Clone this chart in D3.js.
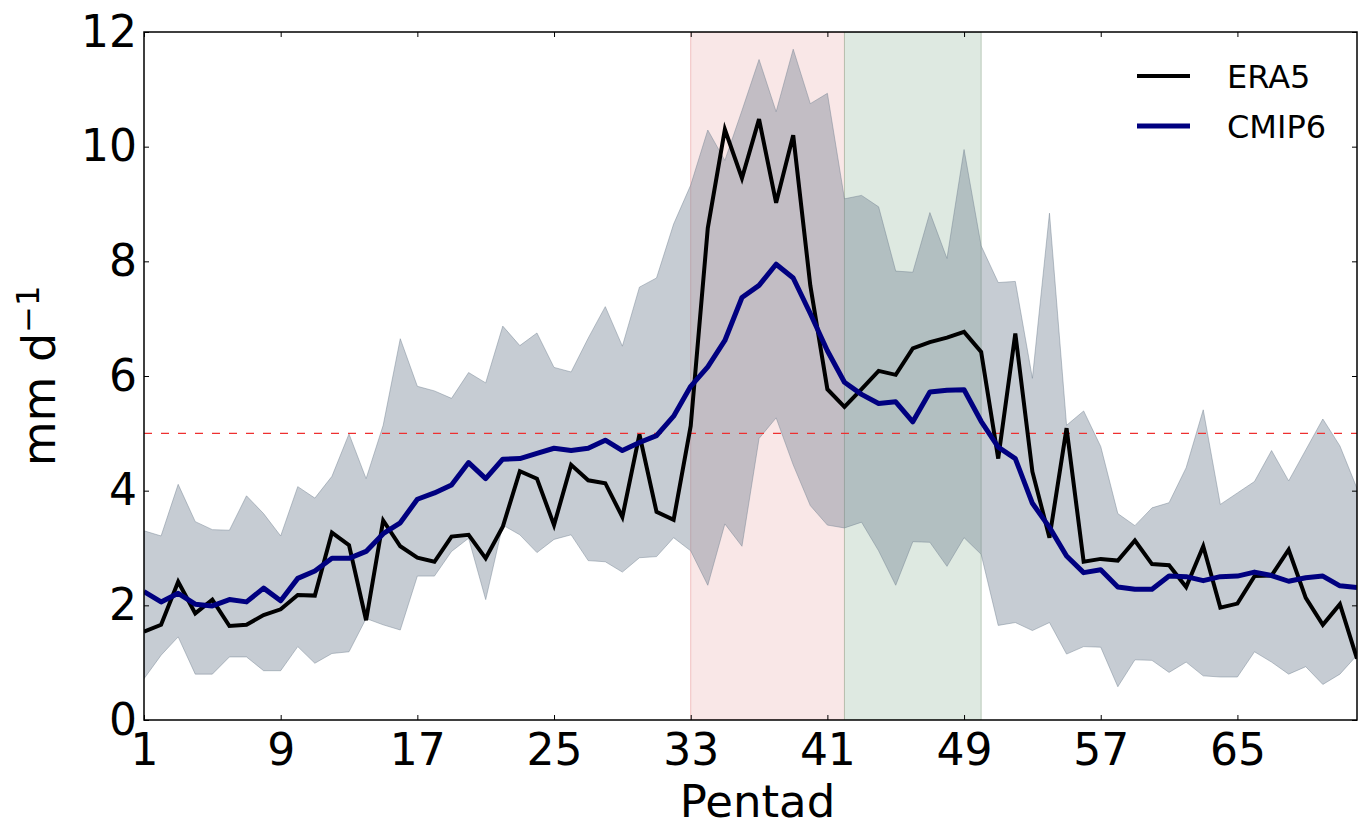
<!DOCTYPE html>
<html>
<head>
<meta charset="utf-8">
<script src="https://cdn.jsdelivr.net/npm/d3@7"></script>
<style>
  html, body { margin: 0; padding: 0; background: #fff; }
  svg { display: block; font-family: "DejaVu Sans", sans-serif; }
</style>
</head>
<body>
<svg id="chart" width="1363" height="828"></svg>
<script>
// Pentad-mean precipitation (mm/day): reanalysis vs. model ensemble
const pentads = d3.range(1, 73);

const era5 = [
  1.54, 1.66, 2.41, 1.86, 2.10, 1.64, 1.66, 1.83, 1.93, 2.18,
  2.17, 3.27, 3.05, 1.74, 3.48, 3.03, 2.83, 2.76, 3.20, 3.23,
  2.82, 3.37, 4.34, 4.21, 3.40, 4.45, 4.18, 4.13, 3.54, 4.98,
  3.63, 3.49, 5.13, 8.58, 10.30, 9.45, 10.48, 9.02, 10.20, 7.58,
  5.77, 5.46, 5.77, 6.09, 6.02, 6.48, 6.59, 6.67, 6.77, 6.42,
  4.56, 6.74, 4.33, 3.18, 5.09, 2.76, 2.81, 2.78, 3.13, 2.72,
  2.70, 2.32, 3.03, 1.96, 2.03, 2.51, 2.52, 2.97, 2.13, 1.66,
  2.02, 1.07
];

const cmip6 = [
  2.24, 2.06, 2.21, 2.02, 1.99, 2.10, 2.06, 2.30, 2.08, 2.47,
  2.60, 2.82, 2.82, 2.94, 3.25, 3.44, 3.85, 3.96, 4.10, 4.49,
  4.21, 4.55, 4.56, 4.65, 4.74, 4.70, 4.74, 4.88, 4.70, 4.84,
  4.96, 5.30, 5.82, 6.16, 6.62, 7.37, 7.58, 7.95, 7.71, 7.09,
  6.44, 5.89, 5.68, 5.52, 5.55, 5.20, 5.72, 5.75, 5.76, 5.21,
  4.76, 4.56, 3.78, 3.36, 2.86, 2.57, 2.62, 2.32, 2.28, 2.28,
  2.51, 2.50, 2.43, 2.50, 2.51, 2.58, 2.52, 2.42, 2.48, 2.51,
  2.34, 2.31
];

// ensemble spread: upper and lower envelope
const cmip6Upper = [
  3.30, 3.21, 4.11, 3.46, 3.32, 3.31, 3.91, 3.60, 3.21, 4.07,
  3.87, 4.25, 4.99, 4.21, 5.14, 6.65, 5.82, 5.74, 5.61, 6.06,
  5.88, 6.87, 6.53, 6.75, 6.15, 6.07, 6.66, 7.21, 6.52, 7.55,
  7.71, 8.65, 9.33, 10.29, 9.76, 10.63, 11.52, 10.61, 11.70, 10.75,
  10.93, 9.09, 9.15, 8.95, 7.83, 7.81, 8.85, 8.05, 9.95, 8.27,
  7.63, 7.65, 5.96, 8.84, 5.14, 5.39, 4.77, 3.60, 3.39, 3.70,
  3.79, 4.40, 5.41, 3.76, 3.96, 4.16, 4.70, 4.17, 4.71, 5.25,
  4.78, 4.04
];

const cmip6Lower = [
  0.72, 1.13, 1.45, 0.80, 0.80, 1.10, 1.10, 0.86, 0.86, 1.28,
  0.99, 1.16, 1.19, 1.77, 1.66, 1.57, 2.51, 2.51, 2.94, 3.17,
  2.10, 3.40, 3.23, 2.92, 3.15, 3.23, 2.78, 2.76, 2.58, 2.83,
  2.85, 3.18, 2.95, 2.35, 3.42, 3.03, 4.91, 5.27, 4.45, 3.74,
  3.40, 3.35, 3.45, 2.95, 2.35, 3.11, 3.10, 2.68, 3.18, 2.89,
  1.65, 1.70, 1.56, 1.70, 1.15, 1.28, 1.27, 0.58, 1.05, 1.04,
  0.83, 1.01, 0.77, 0.75, 0.75, 1.19, 1.01, 0.80, 0.93, 0.62,
  0.80, 1.13
];

// highlighted pentad ranges
const spans = [
  { from: 33, to: 42, fill: "rgb(249,231,231)", edge: "rgba(235,160,160,0.6)" },
  { from: 42, to: 50, fill: "rgb(222,233,225)", edge: "rgba(150,175,150,0.6)" }
];

const threshold = 5;
const xTicks = [1, 9, 17, 25, 33, 41, 49, 57, 65];
const yTicks = [0, 2, 4, 6, 8, 10, 12];
const seriesNames = ["ERA5", "CMIP6"];

const svg = d3.select("#chart");
const plotLeft = 144, plotRight = 1357, plotTop = 32, plotBottom = 720;

const x = d3.scaleLinear().domain([1, 72]).range([plotLeft, plotRight]);
const y = d3.scaleLinear().domain([0, 12]).range([plotBottom, plotTop]);

svg.append("defs").append("clipPath").attr("id", "plot-clip")
  .append("rect")
  .attr("x", plotLeft).attr("y", plotTop)
  .attr("width", plotRight - plotLeft).attr("height", plotBottom - plotTop);

const plot = svg.append("g").attr("clip-path", "url(#plot-clip)");

// shaded pentad windows
plot.selectAll("rect.span")
  .data(spans)
  .join("rect")
  .attr("class", "span")
  .attr("x", d => x(d.from))
  .attr("y", plotTop)
  .attr("width", d => x(d.to) - x(d.from))
  .attr("height", plotBottom - plotTop)
  .attr("fill", d => d.fill)
  .attr("stroke", d => d.edge)
  .attr("stroke-width", 1);

// ensemble envelope
const bandData = pentads.map((p, i) => ({ p, lo: cmip6Lower[i], hi: cmip6Upper[i] }));
plot.append("path")
  .datum(bandData)
  .attr("d", d3.area().x(d => x(d.p)).y0(d => y(d.lo)).y1(d => y(d.hi)))
  .attr("fill", "rgb(112,128,144)")
  .attr("fill-opacity", 0.4)
  .attr("stroke", "rgb(112,128,144)")
  .attr("stroke-opacity", 0.45)
  .attr("stroke-width", 1);

// reference level
plot.append("line")
  .attr("x1", plotLeft).attr("x2", plotRight)
  .attr("y1", y(threshold)).attr("y2", y(threshold))
  .attr("stroke", "#ee3030")
  .attr("stroke-width", 1.2)
  .attr("stroke-dasharray", "8,9");

const line = d3.line().x((d, i) => x(pentads[i])).y(d => y(d));

plot.append("path")
  .datum(era5)
  .attr("d", line)
  .attr("fill", "none")
  .attr("stroke", "#000")
  .attr("stroke-width", 4)
  .attr("stroke-linejoin", "miter");

plot.append("path")
  .datum(cmip6)
  .attr("d", line)
  .attr("fill", "none")
  .attr("stroke", "#000080")
  .attr("stroke-width", 5)
  .attr("stroke-linejoin", "round");

// axes with inward ticks on all four sides
const fontSize = 44;
const gx = svg.append("g").attr("transform", `translate(0,${plotBottom})`)
  .call(d3.axisBottom(x).tickValues(xTicks).tickFormat(d3.format("d"))
    .tickSizeInner(-5).tickSizeOuter(0).tickPadding(14));
const gy = svg.append("g").attr("transform", `translate(${plotLeft},0)`)
  .call(d3.axisLeft(y).tickValues(yTicks).tickFormat(d3.format("d"))
    .tickSizeInner(-5).tickSizeOuter(0).tickPadding(7));
const gt = svg.append("g").attr("transform", `translate(0,${plotTop})`)
  .call(d3.axisTop(x).tickValues(xTicks).tickFormat("")
    .tickSizeInner(-5).tickSizeOuter(0));
const gr = svg.append("g").attr("transform", `translate(${plotRight},0)`)
  .call(d3.axisRight(y).tickValues(yTicks).tickFormat("")
    .tickSizeInner(-5).tickSizeOuter(0));

[gx, gy, gt, gr].forEach(g => {
  g.select(".domain").remove();
  g.selectAll(".tick line").attr("stroke", "#000").attr("stroke-width", 1);
  g.selectAll(".tick text")
    .attr("fill", "#000")
    .attr("font-family", "DejaVu Sans")
    .attr("font-size", fontSize);
});

// frame
svg.append("rect")
  .attr("x", plotLeft).attr("y", plotTop)
  .attr("width", plotRight - plotLeft).attr("height", plotBottom - plotTop)
  .attr("fill", "none")
  .attr("stroke", "#000")
  .attr("stroke-width", 1.5);

// axis titles
svg.append("text")
  .attr("x", (plotLeft + plotRight) / 2 + 7)
  .attr("y", 817)
  .attr("text-anchor", "middle")
  .attr("font-size", 45)
  .attr("fill", "#000")
  .text("Pentad");

const ylab = svg.append("text")
  .attr("transform", `translate(55,${(plotTop + plotBottom) / 2}) rotate(-90)`)
  .attr("text-anchor", "middle")
  .attr("font-size", 46)
  .attr("fill", "#000");
ylab.append("tspan").text("mm d");
ylab.append("tspan").attr("dy", "-0.5em").attr("font-size", 32).text("\u22121");

// legend
const legendColors = ["#000", "#000080"];
const legendWidths = [4, 5];
const legend = svg.append("g");
seriesNames.forEach((name, i) => {
  const ly = 76 + i * 50;
  legend.append("line")
    .attr("x1", 1137).attr("x2", 1190)
    .attr("y1", ly).attr("y2", ly)
    .attr("stroke", legendColors[i])
    .attr("stroke-width", legendWidths[i]);
  legend.append("text")
    .attr("x", 1227).attr("y", ly + 12)
    .attr("font-size", 32)
    .attr("fill", "#000")
    .text(name);
});
</script>
</body>
</html>
